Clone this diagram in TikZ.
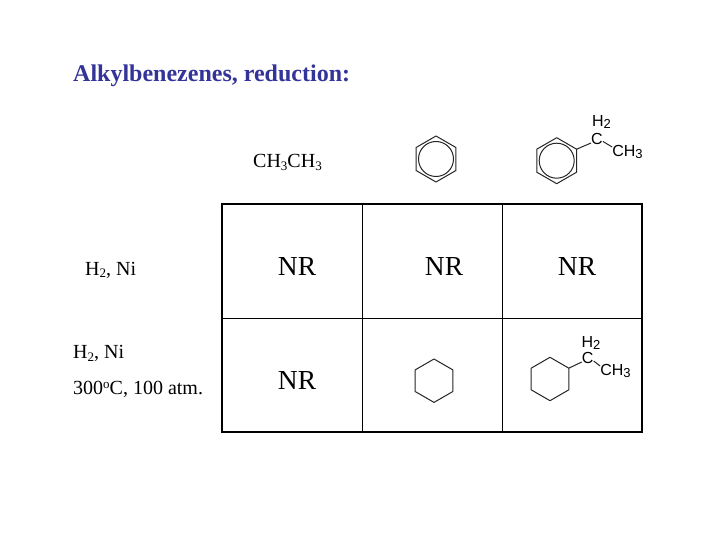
\documentclass[tikz,border=0pt]{standalone}
\usepackage{fontspec}
\setmainfont{Liberation Serif}
\newfontfamily\chemfont{Liberation Sans}
\definecolor{titleblue}{HTML}{333399}
\tikzset{
  x=1pt,y=-1pt,
  gridthick/.style={line width=2pt,black,line cap=rect},
  gridthin/.style={line width=1pt,black},
  ringline/.style={line width=1pt,black!85,line join=round},
  nrtext/.style={font=\fontsize{27.5}{29}\selectfont,inner sep=0pt},
  lbl/.style={font=\fontsize{20}{22}\selectfont,inner sep=0pt,anchor=west},
  chem/.style={font=\chemfont\fontsize{16}{18}\selectfont,inner sep=0pt},
  titletext/.style={font=\bfseries\fontsize{24}{26}\selectfont,text=titleblue,inner sep=0pt,anchor=west}
}
\newcommand{\hexring}[3]{% x y r
  \draw[ringline] (#1,#2-#3) -- (#1+0.866*#3,#2-0.5*#3) -- (#1+0.866*#3,#2+0.5*#3) -- (#1,#2+#3) -- (#1-0.866*#3,#2+0.5*#3) -- (#1-0.866*#3,#2-0.5*#3) -- cycle;
}
\newcommand{\subs}[1]{\raisebox{-0.3ex}{\fontsize{13}{13}\selectfont #1}}
\begin{document}
\begin{tikzpicture}
\useasboundingbox (0,0) rectangle (720,540);
\fill[white] (0,0) rectangle (720,540);
\node[titletext] (title) at (73,76) {Alkylbenezenes, reduction:};
% grid
\draw[gridthin] (362,204) -- (362,432) (502,204) -- (502,432) (222,318) -- (642,318);
\draw[gridthick] (222,204) rectangle (642,432);
% column header
\node[lbl] (ethane) at (253,162.5) {CH\subs{3}CH\subs{3}};
% row labels
\node[lbl] (r1) at (85,270) {H\subs{2}, Ni};
\node[lbl] (r2a) at (73,353.5) {H\subs{2}, Ni};
\node[lbl] (r2b) at (73,389.5) {300\raisebox{0.7ex}{\fontsize{13}{13}\selectfont o}C, 100 atm.};
% NR
\node[nrtext] (n1) at (297,266) {NR};
\node[nrtext] (n2) at (444,266) {NR};
\node[nrtext] (n3) at (577,266) {NR};
\node[nrtext] (n4) at (297,380) {NR};
% benzene
\hexring{436}{159}{23}
\draw[ringline] (436,159) circle (17.5);
% ethylbenzene
\hexring{556.7}{160.7}{23}
\draw[ringline] (556.7,160.7) circle (17.5);
\coordinate (bv) at (576.6,149.2);
\node[chem] (c1) at (597,139) {C};
\node[chem] (h1) at (601.5,122) {H\subs{2}};
\node[chem] (m1) at (627.5,152) {CH\subs{3}};
\draw[ringline] (bv) -- (c1.west |- 0,143);
\draw[ringline] (c1.east |- 0,141.5) -- (m1.west |- 0,147);
% cyclohexane
\hexring{434}{380.7}{21.7}
% ethylcyclohexane
\hexring{550}{379}{21.7}
\coordinate (cv) at (568.8,368.2);
\node[chem] (c2) at (587.7,358) {C};
\node[chem] (h2) at (591,343) {H\subs{2}};
\node[chem] (m2) at (615.5,371) {CH\subs{3}};
\draw[ringline] (cv) -- (c2.west |- 0,362);
\draw[ringline] (c2.east |- 0,361) -- (m2.west |- 0,366);
\end{tikzpicture}
\end{document}
